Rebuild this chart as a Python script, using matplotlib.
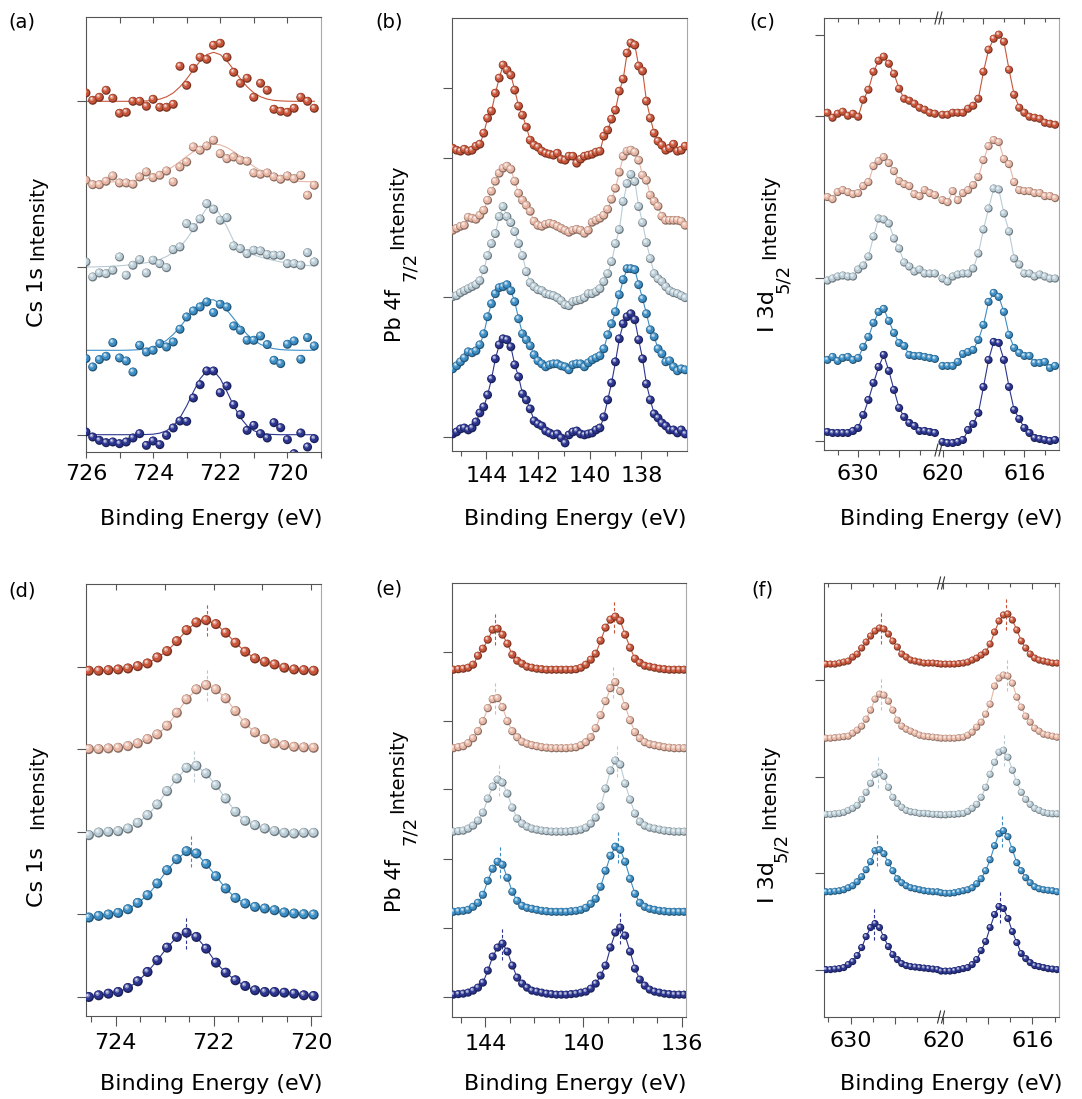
import numpy as np
import matplotlib
matplotlib.use('Agg')
import matplotlib.pyplot as plt
from matplotlib.colors import to_rgb
from matplotlib.path import Path
from matplotlib.collections import PathCollection
from matplotlib.transforms import IdentityTransform, blended_transform_factory

plt.rcParams['font.family'] = ['DejaVu Sans']

W, H = 1082, 1099

# trace colours, top trace first
colors = ['#c8553a', '#e7b6a4', '#b9ccd5', '#3c8ec5', '#2b3590']

# ---------------- (a) Cs 1s, measured + fit ----------------
a_red = [8.3, 1, 4, 11, 3, -12, -11, 0, 0, -5, 2, -6, -6, -3, 35, 16, 33, 44, 42, 56,
         58, 44, 29, 18, 23, 4, 18, 11, -8, -10, -11, -7, 4, 0, -7]
a_pink = [1.7, -2.7, -2.7, 0.7, 6, -1, -1, -2.3, 5, 10, 4.3, 6.7, 11, 0, 15, 20, 35, 31.7,
          36, 41.7, 28.3, 23.3, 25, 21.7, 20.7, 9, 7.7, 9, 5, 2.7, 6, 3.3, 6.7, -13.3, -3.3]
a_lb = [5, -10, -6, -6.7, -3.3, 10, -8.3, 1.7, 7.3, -6, 6.7, 3.3, -0.7, 17.3, 20, 43.3,
        39.3, 48, 63.3, 57.7, 46.7, 49.3, 21, 18.3, 13.3, 16.7, 16, 12.3, 11.7, 11.7, 3.3,
        3.3, 1.7, 14.3, 5]
a_mb = [-8.3, -16.7, -9.3, -6, 7.7, -7.7, -10.7, -21.7, 5, -1.7, 0, 6.7, 3.3, 8.3, 21,
        33.3, 39.3, 43.3, 48.3, 37.7, 46, 43.3, 24.3, 20, 10, 10, 14.3, 5.7, -10, -13.3,
        6, 9.3, -9, 12.7, 4.3]
a_navy = [2.7, -2.3, -5.7, -8, -7.3, -9, -7.3, -3.3, 1, -10.7, -6.3, -10, -0.7, 6.7,
          13.7, 13.3, 36.7, 50, 63.7, 63.7, 42, 48.7, 30, 20, 4.3, 9.3, 1, -3.3, 12, 7,
          -5, -19, 1.7, -12.3, -4]
a_red_fit = [0, 0, 0, 0, 0, 0, 0, 0, 0.1, 0.4, 0.9, 2.2, 4.5, 8.4, 14.5, 22.4, 31.6, 40.3,
             46.7, 49, 46.7, 40.3, 31.6, 22.4, 14.5, 8.4, 4.5, 2.2, 0.9, 0.4, 0.1, 0, 0, 0, 0]
a_pink_fit = [0, 0, 0, 0, 0.1, 0.3, 0.6, 1.1, 1.9, 3.2, 5.1, 7.8, 11.3, 15.6, 20.5, 25.6,
              30.4, 34.4, 37.1, 38, 37.1, 34.4, 30.4, 25.6, 20.5, 15.6, 11.3, 7.8, 5.1, 3.2,
              1.9, 1.1, 0.6, 0.3, 0.1]
a_lb_fit = [0, 0, 0.3, 0.5, 0.8, 1.2, 1.8, 2.5, 3.3, 4.3, 5.5, 7.5, 10.5, 14.5, 20, 28, 38,
            49, 59, 62, 52, 40, 26, 19, 15, 12, 10, 8, 6.5, 5, 4, 3, 2.3, 1.5, 1]
a_mb_fit = [0, 0, 0, 0, 0, 0, 0.1, 0.3, 0.7, 1.6, 3.2, 5.9, 10, 15.9, 23.4, 31.8, 40.1,
            46.8, 50.5, 50.5, 46.8, 40.1, 31.8, 23.4, 15.9, 10, 5.9, 3.2, 1.6, 0.7, 0.3,
            0.1, 0, 0, 0]
a_navy_fit = [0, 0, 0, 0, 0, 0, 0, 0, 0, 0.2, 0.5, 1.6, 4, 8.8, 17, 28.9, 43, 56, 64, 64,
              56, 43, 28.9, 17, 8.8, 4, 1.6, 0.5, 0.2, 0, 0, 0, 0, 0, 0]
a_offsets = [350.7, 270, 185, 101.7, 17.3]
a_yticks = [350.7, 185, 17.3]

# ---------------- (b) Pb 4f7/2, measured ----------------
b_red = [10, 8, 7, 9, 7, 8, 12, 14, 25, 40, 47, 65, 80, 93, 88, 83, 68, 52, 43, 31,
         18, 13, 11, 7, 5, 4, 3, 5, -1, -2, 2, 2, -5, -1, 2, 3, 4, 6, 7, 22,
         28, 39, 48, 67, 79, 105, 115, 113, 92, 87, 57, 40, 25, 17, 13, 8, 10, 14, 7, 8, 12]
b_pink = [3, 5, 7, 8, 16, 15, 14, 18, 23, 33, 42, 52, 60, 65, 67, 64, 52, 40, 33, 28,
          22, 12, 8, 7, 9, 10, 9, 7, 5, 3, 1, 3, 4, 3, 0, 3, 11, 13, 15, 18,
          24, 34, 45, 61, 77, 82, 83, 81, 73, 58, 53, 38, 32, 27, 17, 13, 13, 13, 13, 12, 8]
b_lb = [0, 1, 4, 6, 8, 10, 12, 16, 27, 41, 53, 63, 80, 90, 80, 74, 65, 53, 41, 25,
        14, 10, 7, 6, 3, 2, 1, -1, -4, -8, -9, -5, -4, -3, -1, 3, 3, 5, 8, 15,
        23, 35, 53, 67, 95, 113, 122, 115, 90, 74, 54, 38, 23, 18, 15, 10, 6, 4, 3, 1, -1]
b_mb = [-2, 1, 5, 9, 15, 14, 16, 22, 33, 50, 63, 73, 79, 80, 82, 76, 65, 48, 33, 27,
        21, 12, 6, 3, 0, 2, 3, 3, 1, 0, -3, 2, 3, 3, 0, 4, 7, 9, 11, 18,
        32, 43, 55, 72, 87, 98, 98, 97, 82, 68, 53, 37, 30, 18, 13, 5, 6, 0, -4, -2, -3]
b_navy = [3, 5, 8, 9, 7, 9, 15, 24, 30, 42, 58, 78, 92, 98, 97, 90, 72, 60, 43, 37,
          28, 16, 13, 11, 6, 4, 2, 3, -1, -6, 2, 5, 6, 3, 2, 3, 4, 7, 9, 20,
          37, 54, 75, 98, 113, 120, 123, 117, 97, 78, 53, 37, 23, 19, 14, 11, 7, 7, 4, 7, 3]
b_offsets = [292.3, 217.3, 154, 84, 14]
b_yticks = [362.3, 292.3, 154, 14]

# ---------------- (c) I 3d5/2, measured (broken axis) ----------------
c_red_l = [3, -2, 2, 4, 0, 2, -1, 16, 26, 44, 55, 59, 52, 42, 27, 17, 15, 12, 8, 6, 3, 2]
c_red_r = [1, 1, 3, 3, 3, 7, 10, 17, 44, 66, 77, 81, 74, 46, 21, 8, 3, -1, -2, -3, -7, -8, -9]
c_pink_l = [1, -1, 6, 8, 6, 4, 5, 12, 16, 32, 37, 41, 35, 27, 17, 14, 12, 4, 2, 8, 5, 3]
c_pink_r = [-2, -4, 7, -2, 5, 8, 13, 21, 38, 52, 58, 56, 39, 34, 16, 8, 7, 7, 5, 5, 2, 2, 0]
c_lb_l = [-3, -1, 1, 2, 1, 1, 8, 12, 21, 41, 59, 58, 54, 39, 29, 15, 11, 6, 8, 4, 4, 4]
c_lb_r = [-1, -4, 1, 3, 4, 4, 9, 24, 48, 69, 89, 88, 64, 46, 19, 13, 4, 4, 1, 3, 1, -1, -1]
c_mb_l = [0, 3, -1, 2, 3, 0, 2, 13, 23, 37, 48, 51, 39, 27, 17, 14, 5, 4, 4, 3, 2, 1]
c_mb_r = [-6, -6, -6, -2, 6, 8, 10, 20, 35, 58, 67, 63, 48, 25, 12, 7, 4, 4, -3, -3, -2, -8, -6]
c_navy_l = [9, 8, 8, 8, 8, 10, 13, 26, 41, 58, 74, 86, 70, 51, 33, 24, 18, 15, 10, 10, 9, 8]
c_navy_r = [-1, -2, -2, -1, 1, 11, 17, 28, 54, 81, 99, 98, 81, 54, 31, 22, 13, 8, 3, 2, 1, 0, 1]
c_offsets = [334, 251.7, 172.3, 90, 9]
c_yticks = [415, 334, 172.3, 9]

# ---------------- (d) Cs 1s, calculated ----------------
d_red = [-3.3, -3.3, -2.7, -2, -1, 1.3, 4, 10, 16.3, 26.3, 37.3, 45, 47.3, 43.3, 34.7,
         24.7, 15.7, 9, 5.7, 3, -0.3, -2, -2.7, -3.3]
d_pink = [0, 0, 0.7, 1.3, 3, 5.7, 10, 14.7, 23.3, 36.3, 49.7, 59.7, 64, 59.7, 50.7, 38,
          25.7, 16.7, 10, 5.7, 4, 2.3, 1.7, 1.3]
d_lb = [-3.3, -0.7, 0, 0.7, 3.3, 9, 16.7, 27.3, 40.7, 53.3, 64, 66, 58.3, 46.7, 33.3, 20,
        11, 6.7, 3.3, 0.7, -1, -1.7, -1, -1]
d_mb = [-3.3, -1.7, -0.3, 1.3, 5, 11.3, 19, 30.7, 44, 55, 63, 60.7, 50.3, 38, 25.7, 16.3,
        10.7, 7.3, 5.7, 4, 1.7, 0.7, 0, -0.3]
d_navy = [0, 1.7, 3.3, 5, 9, 15.7, 25, 36.7, 49.3, 60, 64.3, 60, 48.3, 34.3, 24.3, 16.7,
          11, 6.7, 5, 5, 4.3, 3.3, 1.7, 1]
d_centers = [722.14, 722.14, 722.39, 722.46, 722.56]
d_offsets = [348.3, 266.7, 184, 101.7, 19]
d_yticks = [348.3, 266.7, 184, 101.7, 19]

# ---------------- (e) Pb 4f7/2, calculated ----------------
e_red = [0, 0.5, 1, 2, 5, 14, 21, 30, 40, 41, 35, 26, 15, 9, 6, 3, 2, 1, 0.5, 0,
         0, 0, 0, 0, 0, 0.5, 2, 5, 10, 16, 29, 42, 50, 53, 49, 35, 22, 11, 7, 4,
         3, 2, 1, 0.5, 0, 0, 0, 0]
e_pink = [0, 1, 2, 5, 10, 17, 27, 40, 49, 50, 41, 27, 17, 11, 6.5, 4.5, 3, 2, 1, 0.5,
          0, 0, 0, 0, 0.5, 1, 3, 6, 11, 20, 33, 47, 60, 66, 57, 42, 28, 16, 10, 6,
          4, 3, 2, 1, 0.5, 0, 0, 0]
e_lb = [0, 0.5, 1, 3, 6, 11, 19, 33, 45, 52, 49, 38, 24, 13, 8, 5, 3, 2, 1, 0.5,
        0, 0, 0, 0, 0.5, 1, 2, 4, 8, 14, 25, 43, 61, 71, 67, 48, 32, 18, 10, 6,
        4, 3, 2, 1, 0.5, 0, 0, 0]
e_mb = [0, 0.5, 1, 2, 5, 9, 17, 31, 43, 50, 47, 34, 20, 11, 6, 4, 3, 2, 1, 0.5,
        0, 0, 0, 0, 0.5, 1, 2, 4, 8, 13, 25, 41, 56, 65, 62, 50, 33, 18, 9, 5,
        3, 2, 1, 0.5, 0, 0, 0, 0]
e_navy = [0, 0.5, 1, 2, 4, 7, 12, 24, 38, 47, 51, 43, 29, 17, 11, 7, 4, 3, 2, 1,
          0.5, 0, 0, 0, 0.5, 1, 2, 3, 6, 11, 19, 29, 47, 62, 67, 59, 43, 26, 15, 9,
          5, 3, 2, 1, 0.5, 0, 0, 0]
e_centers_l = [143.59, 143.59, 143.46, 143.42, 143.32]
e_centers_r = [138.74, 138.78, 138.64, 138.61, 138.53]
e_offsets = [346.7, 268.3, 185, 105, 22.3]
e_yticks = [364.3, 295.7, 227.3, 157.3, 89.3, 20]

# ---------------- (f) I 3d5/2, calculated (broken axis) ----------------
f_red_l = [0, 0, 0, 1, 2, 3, 7, 10, 16, 22, 28, 33, 36, 35, 30, 23, 17, 10, 7, 4, 3, 2, 1, 1, 1, 0.5]
f_red_r = [0, 0, 0, 0, 0.5, 1, 2, 4, 6, 9, 12, 20, 32, 43, 49, 50, 44, 34, 23, 16, 10, 6, 4, 3, 2, 1, 1]
f_pink_l = [0, 0, 0.5, 1, 1.5, 2, 5, 8, 12, 19, 28, 39, 44, 43, 37, 28, 18, 12, 9, 7, 5, 3, 2, 1.5, 1, 0.5]
f_pink_r = [0, 0, 0, 0, 0.5, 1, 3, 6, 11, 16, 24, 34, 52, 60, 63, 62, 55, 41, 31, 22, 16, 10, 7, 4, 3, 2, 1]
f_lb_l = [0, 0, 0.5, 1, 2, 4, 6, 9, 15, 22, 31, 40, 42, 38, 27, 17, 11, 7, 4, 2.5, 2, 1, 1, 0.5, 0, 0]
f_lb_r = [-0.5, -0.5, 0, 0, 0.5, 1, 3, 6, 10, 17, 27, 40, 52, 62, 64, 57, 44, 32, 22, 15, 10, 6, 4, 2, 1, 0.5, 0.5]
f_mb_l = [0, 0, 0.5, 1, 2, 4, 6, 10, 15, 22, 30, 41, 42, 38, 29, 21, 13, 9, 6, 4, 3, 2, 1, 0.5, 0, 0]
f_mb_r = [-1, -1.5, -1.5, -1, 0, 1, 2, 4, 8, 13, 21, 32, 46, 58, 61, 55, 42, 29, 21, 14, 9, 5, 3, 2, 1.5, 1, 0]
f_navy_l = [0, 0, 0.5, 1, 2, 5, 8, 14, 22, 33, 42, 46, 42, 32, 23, 15, 10, 6, 4, 3, 2.5, 2, 1.5, 1, 0.5, 0]
f_navy_r = [-1.5, -1.5, -1.5, -1, 0, 1, 2, 5, 10, 19, 28, 42, 55, 63, 61, 51, 38, 27, 16, 11, 7, 4, 3, 2, 1, 0.5, 0]
f_centers_l = [628.63, 628.63, 628.78, 628.82, 628.93]
f_centers_r = [617.17, 617.14, 617.28, 617.35, 617.47]
f_offsets = [352.3, 278.3, 202.3, 125, 47.3]
f_yticks = [336, 240, 144, 47.3]

# energy grids
a_energy = np.linspace(726.0, 719.2, len(a_red))
b_energy = np.linspace(145.3, 136.3, len(b_red))
c_energy_l = np.linspace(631.5, 626.25, len(c_red_l))
c_energy_r = np.linspace(620.0, 614.5, len(c_red_r))
d_energy = np.linspace(724.55, 719.95, len(d_red))
e_energy = np.linspace(145.3, 135.9, len(e_red))
f_energy_l = np.linspace(631.1, 626.1, len(f_red_l))
f_energy_r = np.linspace(620.1, 614.9, len(f_red_r))

# broken-axis windows: (left hi, left lo, right hi, right lo)
c_window = (631.67, 626.08, 620.2, 614.31)
f_window = (631.19, 625.94, 620.1, 614.81)

SPINE = '#555555'


def shade(c, f):
    rgb = np.array(to_rgb(c))
    if f < 0:
        return tuple(rgb * (1 + f))
    return tuple(rgb + (1 - rgb) * f)


# a shaded ball: dark rim, body, soft light, specular spot
BALL = [Path.circle((0, 0), 0.5), Path.circle((-0.05, 0.06), 0.41),
        Path.circle((-0.12, 0.15), 0.21), Path.circle((-0.15, 0.19), 0.08)]


def balls(ax, x, y, color, size):
    xy = np.repeat(np.column_stack([x, y]), len(BALL), axis=0)
    fc = [shade(color, -0.4), color, shade(color, 0.45), shade(color, 0.92)]
    coll = PathCollection(BALL, sizes=[size], offsets=xy, offset_transform=ax.transData,
                          facecolors=fc, edgecolors='none', zorder=3)
    coll.set_transform(IdentityTransform())
    ax.add_collection(coll, autolim=False)


def rect(l, t, r, b):
    return [l / W, 1 - b / H, (r - l) / W, (b - t) / H]


def frame(ax, xlim, ylim, yticks, major, labels, minor, maj_len, min_len):
    ax.set_xlim(*xlim)
    ax.set_ylim(*ylim)
    ax.set_yticks(yticks)
    ax.set_yticklabels([])
    ax.set_xticks(major)
    ax.set_xticklabels(labels)
    ax.set_xticks(minor, minor=True)
    ax.tick_params(axis='y', direction='out', length=6.5, width=0.8, color=SPINE)
    ax.tick_params(axis='x', which='major', direction='out', length=maj_len, width=0.8,
                   color=SPINE, labelsize=16, pad=5)
    ax.tick_params(axis='x', which='minor', direction='out', length=min_len, width=0.8,
                   color=SPINE)
    for s in ['left', 'bottom', 'top']:
        ax.spines[s].set_color(SPINE)
        ax.spines[s].set_linewidth(0.8)
    ax.spines['right'].set_color('#a8a8a8')
    ax.spines['right'].set_linewidth(0.8)


def top_ticks(ax, xs, length):
    tr = blended_transform_factory(ax.transData, ax.transAxes)
    frac = length / (ax.get_position().height * H)
    ax.vlines(xs, 1 - frac, 1, transform=tr, colors=SPINE, lw=0.8, clip_on=False)


def break_marks(ax, xb):
    tr = blended_transform_factory(ax.transData, ax.transAxes)
    x0, x1 = ax.get_xlim()
    ux = (x1 - x0) / (ax.get_position().width * W)
    uy = 1 / (ax.get_position().height * H)
    for yy in (0, 1):
        for dx in (-2, 2):
            ax.plot([xb + (dx - 1.5) * ux, xb + (dx + 1.5) * ux], [yy - 6 * uy, yy + 6 * uy],
                    transform=tr, color='#333333', lw=0.8, clip_on=False, zorder=5)


def stack(ax, energy, series, offsets, size, fits=None):
    for k, vals in enumerate(series):
        y = offsets[k] + np.asarray(vals, dtype=float)
        ly = offsets[k] + np.asarray(fits[k], dtype=float) if fits else y
        ax.plot(energy, ly, color=colors[k], lw=0.8, zorder=2)
        balls(ax, energy, y, colors[k], size)


def peak_marks(ax, centers, series, offsets):
    for k, (xc, vals) in enumerate(zip(centers, series)):
        top = offsets[k] + max(vals)
        ax.vlines(xc, top - 16, top + 16, colors=colors[k], lw=0.8,
                  linestyles=(0, (3, 2)), zorder=2.5)


fig = plt.figure(figsize=(W / 100, H / 100), dpi=100)

# (a)
ax = fig.add_axes(rect(86, 17, 321, 452))
frame(ax, (726, 719), (0, 435), a_yticks, [726, 724, 722, 720],
      ['726', '724', '722', '720'], [725, 723, 721, 719], 4, 4)
top_ticks(ax, [725, 724, 723, 722, 721, 720], 6)
stack(ax, a_energy, [a_red, a_pink, a_lb, a_mb, a_navy], a_offsets, 42,
      fits=[a_red_fit, a_pink_fit, a_lb_fit, a_mb_fit, a_navy_fit])

# (b)
ax = fig.add_axes(rect(452, 18, 687, 451))
frame(ax, (145.33, 136.23), (0, 432.3), b_yticks, [144, 142, 140, 138],
      ['144', '142', '140', '138'], [145, 143, 141, 139, 137], 5.5, 3.3)
stack(ax, b_energy, [b_red, b_pink, b_lb, b_mb, b_navy], b_offsets, 40)


def broken_panel(rect_px, window, ylim, yticks, left_series, right_series, e_l, e_r,
                 offsets, size, tops):
    hl, ll, hr, lr = window
    shift = ll - hr
    ax = fig.add_axes(rect(*rect_px))
    major = [630, 628, 620 + shift, 618 + shift, 616 + shift]
    minor = [631, 629, 627, 619 + shift, 617 + shift, 615 + shift]
    frame(ax, (hl, lr + shift), ylim, yticks, major, ['630', '', '620', '', '616'],
          minor, 5, 3.5)
    top_ticks(ax, major, tops[0])
    top_ticks(ax, minor, tops[1])
    stack(ax, e_l, left_series, offsets, size)
    stack(ax, e_r + shift, right_series, offsets, size)
    break_marks(ax, ll)
    return ax, shift


# (c)
broken_panel((824, 18, 1059, 450), c_window, (0, 431.7), c_yticks,
             [c_red_l, c_pink_l, c_lb_l, c_mb_l, c_navy_l],
             [c_red_r, c_pink_r, c_lb_r, c_mb_r, c_navy_r],
             c_energy_l, c_energy_r, c_offsets, 34, (6, 3.5))

# (d)
ax = fig.add_axes(rect(86, 584, 321, 1016))
d_series = [d_red, d_pink, d_lb, d_mb, d_navy]
frame(ax, (724.61, 719.8), (0, 431.7), d_yticks, [724, 722, 720], ['724', '722', '720'],
      [724.5, 723.5, 723, 722.5, 721.5, 721, 720.5], 7, 4.3)
top_ticks(ax, [724, 723, 722, 721, 720], 6)
peak_marks(ax, d_centers, d_series, d_offsets)
stack(ax, d_energy, d_series, d_offsets, 52)

# (e)
ax = fig.add_axes(rect(452, 583, 686, 1017))
e_series = [e_red, e_pink, e_lb, e_mb, e_navy]
frame(ax, (145.36, 135.82), (0, 433.3), e_yticks, [144, 140, 136], ['144', '140', '136'],
      [145, 143, 142, 141, 139, 138, 137], 7.5, 4.5)
split = e_energy > 141
peak_marks(ax, e_centers_l, [np.asarray(s)[split] for s in e_series], e_offsets)
peak_marks(ax, e_centers_r, [np.asarray(s)[~split] for s in e_series], e_offsets)
stack(ax, e_energy, e_series, e_offsets, 34)

# (f)
f_left = [f_red_l, f_pink_l, f_lb_l, f_mb_l, f_navy_l]
f_right = [f_red_r, f_pink_r, f_lb_r, f_mb_r, f_navy_r]
ax, f_shift = broken_panel((824, 583, 1059, 1017), f_window, (0, 433.3), f_yticks,
                           f_left, f_right, f_energy_l, f_energy_r, f_offsets, 26, (6, 3.5))
peak_marks(ax, f_centers_l, f_left, f_offsets)
peak_marks(ax, np.asarray(f_centers_r) + f_shift, f_right, f_offsets)


def ftext(x, y, s, size, **kw):
    fig.text(x / W, 1 - y / H, s, fontsize=size, **kw)


# panel letters
for x, y, s in [(22, 22, '(a)'), (389, 22, '(b)'), (762, 22, '(c)'),
                (22, 591, '(d)'), (389, 589, '(e)'), (762, 590, '(f)')]:
    ftext(x, y, s, 14, ha='center', va='center')

# x labels
for x, y in [(211, 525), (575, 525), (951, 525), (211, 1090), (575, 1090), (951, 1090)]:
    ftext(x, y, 'Binding Energy (eV)', 16, ha='center', va='baseline')

# y labels, pieces placed separately
ylab = [(37, 297, 'Cs 1s', 16), (38, 218, 'Intensity', 14),
        (37, 877, 'Cs 1s', 16), (38, 787, 'Intensity', 14),
        (395, 316, 'Pb 4f', 15), (410, 266, '7/2', 13), (398, 207, 'Intensity', 14),
        (395, 885, 'Pb 4f', 15), (410, 830, '7/2', 13), (398, 771, 'Intensity', 14),
        (768, 311, 'I 3d', 16), (783, 278, '5/2', 13), (770, 217, 'Intensity', 14),
        (768, 882, 'I 3d', 16), (781, 847, '5/2', 13), (770, 787, 'Intensity', 14)]
for x, y, s, size in ylab:
    ftext(x, y, s, size, rotation=90, ha='center', va='center')

fig.savefig('out.png', dpi=100)
